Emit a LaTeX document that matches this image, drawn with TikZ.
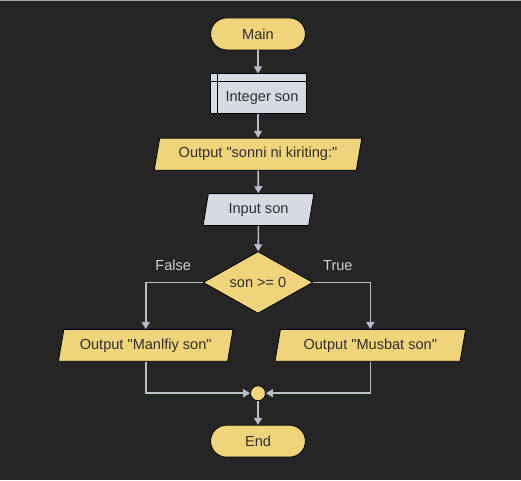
\documentclass[tikz,border=0pt]{standalone}
\usepackage{fontspec}
\setmainfont{Liberation Sans}[Ligatures=TeXOff]
\usetikzlibrary{shapes.geometric,arrows.meta}
\definecolor{bg}{HTML}{252525}
\definecolor{yel}{HTML}{F0D47C}
\definecolor{blu}{HTML}{D6DAE3}
\definecolor{lin}{HTML}{B9BDC6}
\definecolor{txt}{HTML}{2E2E2E}
\definecolor{lbl}{HTML}{D2D2D2}
\begin{document}
\begin{tikzpicture}[x=1pt,y=-1pt,
  every node/.style={font=\fontsize{14.6}{16}\selectfont, text=txt},
  term/.style={draw=black, line width=0.8pt, fill=yel, rounded corners=16pt, minimum width=95pt, minimum height=32pt, inner sep=0pt},
  proc/.style={draw=black, line width=0.8pt, fill=blu, minimum width=96pt, minimum height=40pt, inner sep=0pt},
  io/.style={draw=black, line width=0.8pt, trapezium, trapezium stretches body=true, trapezium left angle=68, trapezium right angle=112, minimum height=32pt, inner sep=0pt},
  dec/.style={draw=black, line width=0.8pt, fill=yel, diamond, aspect=1.77, minimum width=110pt, minimum height=62pt, inner sep=0pt},
  conn/.style={draw=lin, line width=1.6pt, -{Triangle[width=8pt,length=7pt]}},
  lab/.style={text=lbl}]
\fill[bg] (0,0) rectangle (521,481);
\draw[color=gray!70, line width=1pt] (0,0.5) -- (521,0.5);
\node[term] (main) at (258,34) {Main};
\node[proc] (decl) at (258,94) {};
\node at (262,98) {Integer son};
\draw[black, line width=0.8pt] ([xshift=8pt]decl.north west) -- ([xshift=8pt]decl.south west);
\draw[black, line width=0.8pt] ([yshift=-8pt]decl.north west) -- ([yshift=-8pt]decl.north east);
\node[io, fill=yel, minimum width=208pt] (out1) at (258,154.5) {Output "sonni ni kiriting:"};
\node[io, fill=blu, minimum width=111pt] (inp) at (258.5,210) {Input son};
\node[dec] (cond) at (258,283) {son >= 0};
\node[io, fill=yel, minimum width=175pt] (outF) at (145.5,346) {Output "Manlfiy son"};
\node[io, fill=yel, minimum width=191pt] (outT) at (370.5,346) {Output "Musbat son"};
\node[draw=black, line width=0.8pt, fill=yel, circle, minimum size=15pt, inner sep=0pt] (merge) at (258,394) {};
\node[term] (end) at (258,442) {End};
\node[lab] (lf) at (173,266) {False};
\node[lab] (lt) at (338,266) {True};
\draw[conn] (main) -- (decl);
\draw[conn] (decl) -- (out1);
\draw[conn] (out1) -- (inp);
\draw[conn] (inp) -- (cond);
\draw[conn] (cond.west) -| (outF.north);
\draw[conn] (cond.east) -| (outT.north);
\draw[conn] (outF.south) |- (merge.west);
\draw[conn] (outT.south) |- (merge.east);
\draw[conn] (merge) -- (end);
\end{tikzpicture}
\end{document}
